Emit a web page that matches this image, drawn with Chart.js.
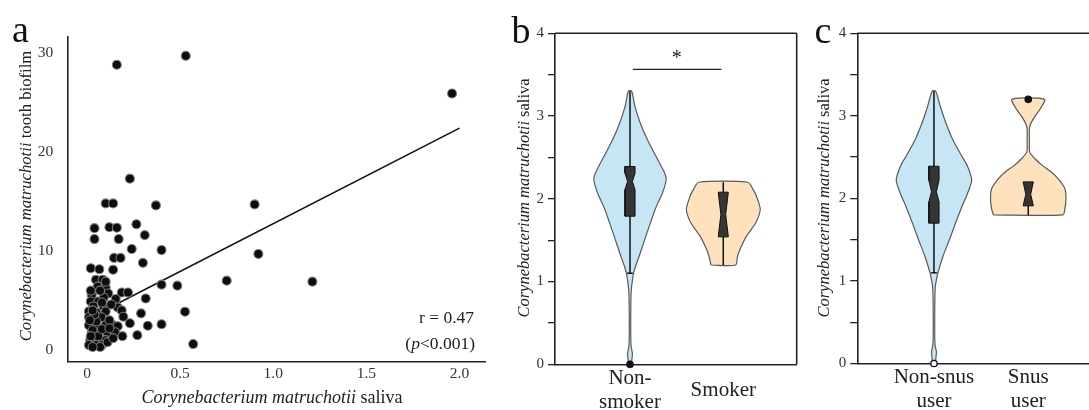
<!DOCTYPE html>
<html>
<head>
<meta charset="utf-8">
<script src="https://cdn.jsdelivr.net/npm/chart.js@4.4.1/dist/chart.umd.min.js"></script>
<style>
  body { margin: 0; background: #fff; width: 1089px; height: 410px; overflow: hidden; position: relative; }
  canvas { position: absolute; top: 0; }
</style>
</head>
<body>
<canvas id="chartA" width="500" height="410" style="left:0"></canvas>
<canvas id="chartB" width="310" height="410" style="left:500px"></canvas>
<canvas id="chartC" width="300" height="410" style="left:810px"></canvas>
<script>
// ---- panel a: saliva vs tooth biofilm ----
const salivaX = [0.16, 0.53, 1.96, 0.23, 0.10, 0.14, 0.37, 0.90, 0.04, 0.12, 0.16, 0.265, 0.04, 0.17, 0.31,
  0.24, 0.40, 0.92, 0.145, 0.18, 0.30, 0.02, 0.066, 0.14, 0.048, 0.084, 0.75, 1.21, 0.057, 0.10, 0.40, 0.485,
  0.114, 0.186, 0.22, 0.025, 0.315, 0.154, 0.02, 0.06, 0.034, 0.088, 0.165, 0.01, 0.05, 0.10, 0.186, 0.29, 0.526,
  0.01, 0.04, 0.077, 0.195, 0.01, 0.05, 0.10, 0.14, 0.165, 0.23, 0.326, 0.40, 0.025, 0.07, 0.11, 0.15, 0.19, 0.27,
  0.017, 0.06, 0.10, 0.01, 0.05, 0.08, 0.57, 0.02, 0.03, 0.06, 0.08, 0.12, 0.13, 0.09, 0.07, 0.03, 0.11, 0.14,
  0.05, 0.02, 0.04, 0.08, 0.10, 0.12, 0.015, 0.03, 0.07];
const biofilmY = [28.8, 29.7, 25.9, 17.3, 14.8, 14.8, 14.6, 14.7, 12.3, 12.4, 12.35, 12.7, 11.2, 11.2, 11.6,
  10.2, 10.1, 9.7, 9.3, 9.3, 8.8, 8.25, 8.15, 8.1, 7.1, 7.1, 7.0, 6.9, 6.4, 6.3, 6.6, 6.5,
  5.7, 5.8, 5.8, 5.55, 5.2, 5.15, 4.9, 4.9, 4.4, 4.4, 4.3, 3.9, 3.8, 3.9, 4.0, 3.7, 3.87,
  3.3, 3.3, 3.3, 3.36, 2.5, 2.5, 2.5, 2.5, 2.4, 2.7, 2.45, 2.6, 1.8, 1.8, 1.8, 1.8, 1.4, 1.5,
  1.0, 1.0, 1.0, 0.5, 0.5, 0.5, 0.6, 6.0, 2.0, 1.4, 2.1, 3.0, 4.6, 5.3, 0.3, 0.3, 0.8, 1.2,
  2.9, 1.4, 3.6, 4.8, 6.9, 2.2, 3.0, 4.0, 6.0];
const fitX = [0.01, 2.0];
const fitY = [3.2, 22.4];
const xTicksA = [0, 0.5, 1, 1.5, 2];
const yTicksA = [0, 10, 20, 30];

// ---- panels b and c: violins ----
const catsB = [['Non-', 'smoker'], 'Smoker'];
const catsC = [['Non-snus', 'user'], ['Snus', 'user']];
const yTicksBC = [0, 0.5, 1, 1.5, 2, 2.5, 3, 3.5, 4];

// density profiles (value, relative half width)
const nonSmokerY = [0, 0.06, 0.13, 0.22, 0.35, 0.6, 0.8, 0.9, 1.0, 1.1, 1.2, 1.3, 1.5, 1.7, 1.9, 2.07, 2.23, 2.31, 2.51, 2.71, 2.91, 3.12, 3.3];
const nonSmokerD = [0.03, 0.05, 0.065, 0.03, 0.02, 0.02, 0.025, 0.035, 0.06, 0.095, 0.16, 0.24, 0.39, 0.54, 0.70, 0.87, 0.97, 0.93, 0.70, 0.47, 0.28, 0.13, 0.045];
const smokerY = [1.2, 1.3, 1.38, 1.54, 1.71, 1.87, 2.03, 2.12, 2.2];
const smokerD = [0.33, 0.38, 0.44, 0.61, 0.87, 0.99, 0.89, 0.79, 0.66];
const nonSnusY = [0, 0.06, 0.14, 0.22, 0.35, 0.6, 0.8, 0.93, 1.0, 1.09, 1.3, 1.5, 1.7, 1.9, 2.06, 2.22, 2.39, 2.51, 2.71, 2.91, 3.12, 3.3];
const nonSnusD = [0.03, 0.05, 0.065, 0.03, 0.02, 0.02, 0.025, 0.035, 0.06, 0.1, 0.24, 0.41, 0.57, 0.74, 0.89, 1.0, 0.89, 0.74, 0.50, 0.32, 0.165, 0.045];
const snusY = [1.8, 1.87, 2.0, 2.12, 2.24, 2.32, 2.4, 2.48, 2.56, 2.7, 2.86, 2.96, 3.08, 3.2];
const snusD = [0.92, 0.97, 1.0, 0.97, 0.79, 0.61, 0.37, 0.18, 0.04, 0.03, 0.035, 0.13, 0.31, 0.43];

// box stats: [q1, median, q3, notchLow, notchHigh, whiskerLow, whiskerHigh]
const nonSmokerBox = [1.79, 2.21, 2.39, 2.11, 2.31, 1.10, 3.30];
const smokerBox = [1.54, 1.81, 2.08, 1.54, 2.08, 1.20, 2.20];
const nonSnusBox = [1.70, 2.08, 2.39, 1.96, 2.22, 1.10, 3.30];
const snusBox = [1.91, 2.05, 2.20, 1.91, 2.20, 1.80, 2.20];

const nonSmokerOut = [0];
const nonSnusOut = [0];
const snusOut = [3.2];
const sigB = { from: 1.03, to: 1.98, y: 3.565, label: '*' };

const SERIF = '"Liberation Serif", "Times New Roman", serif';
Chart.defaults.font.family = SERIF;
Chart.defaults.animation = false;

const BLUE = '#c6e6f5';
const ORANGE = '#fde2bd';
const HALF = 0.4;      // violin max half width in category units
const BOX_W = 0.054;
const NOTCH_W = 0.026;

function textPlugin(items) {
  return {
    id: 'texts',
    afterDraw(chart) {
      const ctx = chart.ctx;
      items.forEach(it => {
        let x = it.x, y = it.y;
        if (it.dataX !== undefined) {
          x = chart.scales.x.getPixelForValue(it.dataX);
          y = chart.scales.y.getPixelForValue(it.dataY);
        }
        ctx.save();
        ctx.translate(x, y);
        if (it.rotate) ctx.rotate(it.rotate);
        ctx.fillStyle = it.color || '#222';
        ctx.textBaseline = it.baseline || 'middle';
        ctx.textAlign = 'left';
        const parts = it.parts.map(p => ({ text: p[0], font: (p[1] ? 'italic ' : '') + it.size + 'px ' + SERIF }));
        let total = 0;
        parts.forEach(p => { ctx.font = p.font; p.w = ctx.measureText(p.text).width; total += p.w; });
        let cx = it.align === 'right' ? -total : it.align === 'left' ? 0 : -total / 2;
        parts.forEach(p => { ctx.font = p.font; ctx.fillText(p.text, cx, 0); cx += p.w; });
        ctx.restore();
      });
    }
  };
}

function framePlugin(sides) {
  return {
    id: 'frame',
    afterDatasetsDraw(chart) {
      const { ctx, chartArea: a } = chart;
      ctx.save();
      ctx.strokeStyle = '#222';
      ctx.lineWidth = 1.6;
      ctx.beginPath();
      if (sides.includes('top')) { ctx.moveTo(a.left, a.top); ctx.lineTo(a.right, a.top); }
      if (sides.includes('right')) { ctx.moveTo(a.right, a.top); ctx.lineTo(a.right, a.bottom); }
      ctx.stroke();
      ctx.restore();
    }
  };
}

function violin(center, ys, dens, color) {
  const left = ys.map((y, i) => ({ x: center - dens[i] * HALF, y }));
  const right = ys.map((y, i) => ({ x: center + dens[i] * HALF, y })).reverse();
  return {
    data: left.concat(right, [left[0]]),
    showLine: true, fill: 'shape', backgroundColor: color, borderColor: '#5a5a5a',
    borderWidth: 1.2, pointRadius: 0, tension: 0.25, order: 5
  };
}

function whisker(c, b, cap) {
  const d = [{ x: c, y: b[5] }, { x: c, y: b[6] }];
  if (cap) {
    d.push({ x: c, y: null }, { x: c - 0.03, y: b[5] }, { x: c + 0.03, y: b[5] });
  }
  return { data: d, showLine: true, borderColor: '#111', borderWidth: 1.5, pointRadius: 0, spanGaps: false, order: 4 };
}

function box(c, b) {
  const [q1, med, q3, nLo, nHi] = b;
  return {
    data: [
      { x: c - BOX_W, y: q1 }, { x: c + BOX_W, y: q1 }, { x: c + BOX_W, y: nLo }, { x: c + NOTCH_W, y: med },
      { x: c + BOX_W, y: nHi }, { x: c + BOX_W, y: q3 }, { x: c - BOX_W, y: q3 }, { x: c - BOX_W, y: nHi },
      { x: c - NOTCH_W, y: med }, { x: c - BOX_W, y: nLo }, { x: c - BOX_W, y: q1 }
    ],
    showLine: true, fill: 'shape', backgroundColor: '#353535', borderColor: '#111',
    borderWidth: 1, pointRadius: 0, tension: 0, order: 3
  };
}

function outliers(c, vals, filled) {
  return {
    data: vals.map(v => ({ x: c, y: v })), pointRadius: 3.2, pointBorderWidth: 1.3,
    pointBackgroundColor: filled ? '#111' : '#fff', pointBorderColor: '#111', clip: false, order: 1
  };
}

// ---- chart a ----
new Chart(document.getElementById('chartA'), {
  type: 'scatter',
  data: {
    datasets: [
      {
        data: salivaX.map((x, i) => ({ x, y: biofilmY[i] })),
        pointRadius: 4.5, pointBackgroundColor: '#0d0d0d', pointBorderColor: 'rgba(125,125,125,0.95)',
        pointBorderWidth: 1.1, order: 1
      },
      {
        data: fitX.map((x, i) => ({ x, y: fitY[i] })),
        showLine: true, borderColor: '#111', borderWidth: 1.6, pointRadius: 0, order: 2
      }
    ]
  },
  options: {
    responsive: false,
    layout: { padding: { top: 37, right: 15, left: 0, bottom: 0 } },
    plugins: { legend: { display: false }, tooltip: { enabled: false } },
    scales: {
      x: {
        type: 'linear', min: -0.106, max: 2.137,
        afterBuildTicks: s => { s.ticks = xTicksA.map(v => ({ value: v })); },
        afterFit: s => { s.height = 48.3; },
        grid: { display: false, drawTicks: false },
        border: { display: true, color: '#222', width: 1.6 },
        ticks: { padding: 3, color: '#333', font: { size: 15.5 }, maxRotation: 0, autoSkip: false,
          callback: v => v === 0 ? '0' : v.toFixed(1) }
      },
      y: {
        min: -1.18, max: 31.6,
        afterBuildTicks: s => { s.ticks = yTicksA.map(v => ({ value: v })); },
        afterFit: s => { s.width = 67.3; },
        grid: { display: false, drawTicks: false },
        border: { display: true, color: '#222', width: 1.6 },
        ticks: { padding: 14, color: '#333', font: { size: 15.5 } }
      }
    }
  },
  plugins: [textPlugin([
    { x: 12, y: 41.5, parts: [['a']], size: 38, align: 'left', baseline: 'alphabetic', color: '#111' },
    { x: 27, y: 196, rotate: -Math.PI / 2, parts: [['Corynebacterium matruchotii', true], [' tooth biofilm']], size: 16.7 },
    { x: 272, y: 398, parts: [['Corynebacterium matruchotii', true], [' saliva']], size: 18 },
    { x: 474, y: 318, parts: [['r = 0.47']], size: 17.5, align: 'right' },
    { x: 475, y: 344, parts: [['('], ['p', true], ['<0.001)']], size: 17.5, align: 'right' }
  ])]
});

function violinOptions(xMin, xMax, yWidth, xHeight, padRight, cats) {
  return {
    responsive: false,
    layout: { padding: { top: 33.3, right: padRight, left: 0, bottom: 0 } },
    plugins: { legend: { display: false }, tooltip: { enabled: false } },
    scales: {
      x: {
        type: 'linear', min: xMin, max: xMax,
        afterBuildTicks: s => { s.ticks = [1, 2].map(v => ({ value: v })); },
        afterFit: s => { s.height = xHeight; },
        grid: { display: false, drawTicks: false },
        border: { display: true, color: '#222', width: 1.6 },
        ticks: { padding: 14, color: '#222', font: { size: 21, lineHeight: 1.15 }, maxRotation: 0, autoSkip: false,
          crossAlign: 'center', callback: v => cats[v - 1] }
      },
      y: {
        min: 0, max: 4,
        afterBuildTicks: s => { s.ticks = yTicksBC.map(v => ({ value: v })); },
        afterFit: s => { s.width = yWidth; },
        grid: { display: true, drawOnChartArea: false, drawTicks: true, tickLength: 7, color: '#222', lineWidth: 1.3 },
        border: { display: true, color: '#222', width: 1.6 },
        ticks: { padding: 4, color: '#333', font: { size: 15 }, callback: v => (v % 1 === 0 ? String(v) : '') }
      }
    }
  };
}

// ---- chart b ----
new Chart(document.getElementById('chartB'), {
  type: 'scatter',
  data: {
    datasets: [
      violin(1, nonSmokerY, nonSmokerD, BLUE),
      violin(2, smokerY, smokerD, ORANGE),
      whisker(1, nonSmokerBox, true),
      whisker(2, smokerBox, false),
      box(1, nonSmokerBox),
      box(2, smokerBox),
      outliers(1, nonSmokerOut, true),
      {
        data: [{ x: sigB.from, y: sigB.y }, { x: sigB.to, y: sigB.y }],
        showLine: true, borderColor: '#222', borderWidth: 1.3, pointRadius: 0, order: 1
      }
    ]
  },
  options: violinOptions(0.196, 2.787, 55, 45.7, 13.3, catsB),
  plugins: [framePlugin(['top', 'right']), textPlugin([
    { x: 11.5, y: 42.5, parts: [['b']], size: 38, align: 'left', baseline: 'alphabetic', color: '#111' },
    { x: 25, y: 198, rotate: -Math.PI / 2, parts: [['Corynebacterium matruchotii', true], [' saliva']], size: 16.5 },
    { dataX: 1.5, dataY: 3.69, parts: [[sigB.label]], size: 20 }
  ])]
});

// ---- chart c ----
new Chart(document.getElementById('chartC'), {
  type: 'scatter',
  data: {
    datasets: [
      violin(1, nonSnusY, nonSnusD, BLUE),
      violin(2, snusY, snusD, ORANGE),
      whisker(1, nonSnusBox, true),
      whisker(2, snusBox, false),
      box(1, nonSnusBox),
      box(2, snusBox),
      outliers(1, nonSnusOut, false),
      outliers(2, snusOut, true)
    ]
  },
  options: violinOptions(0.187, 2.761, 47.3, 46.5, 10, catsC),
  plugins: [framePlugin(['top', 'right']), textPlugin([
    { x: 4.5, y: 42.5, parts: [['c']], size: 38, align: 'left', baseline: 'alphabetic', color: '#111' },
    { x: 15, y: 198, rotate: -Math.PI / 2, parts: [['Corynebacterium matruchotii', true], [' saliva']], size: 16.5 }
  ])]
});
</script>
</body>
</html>
